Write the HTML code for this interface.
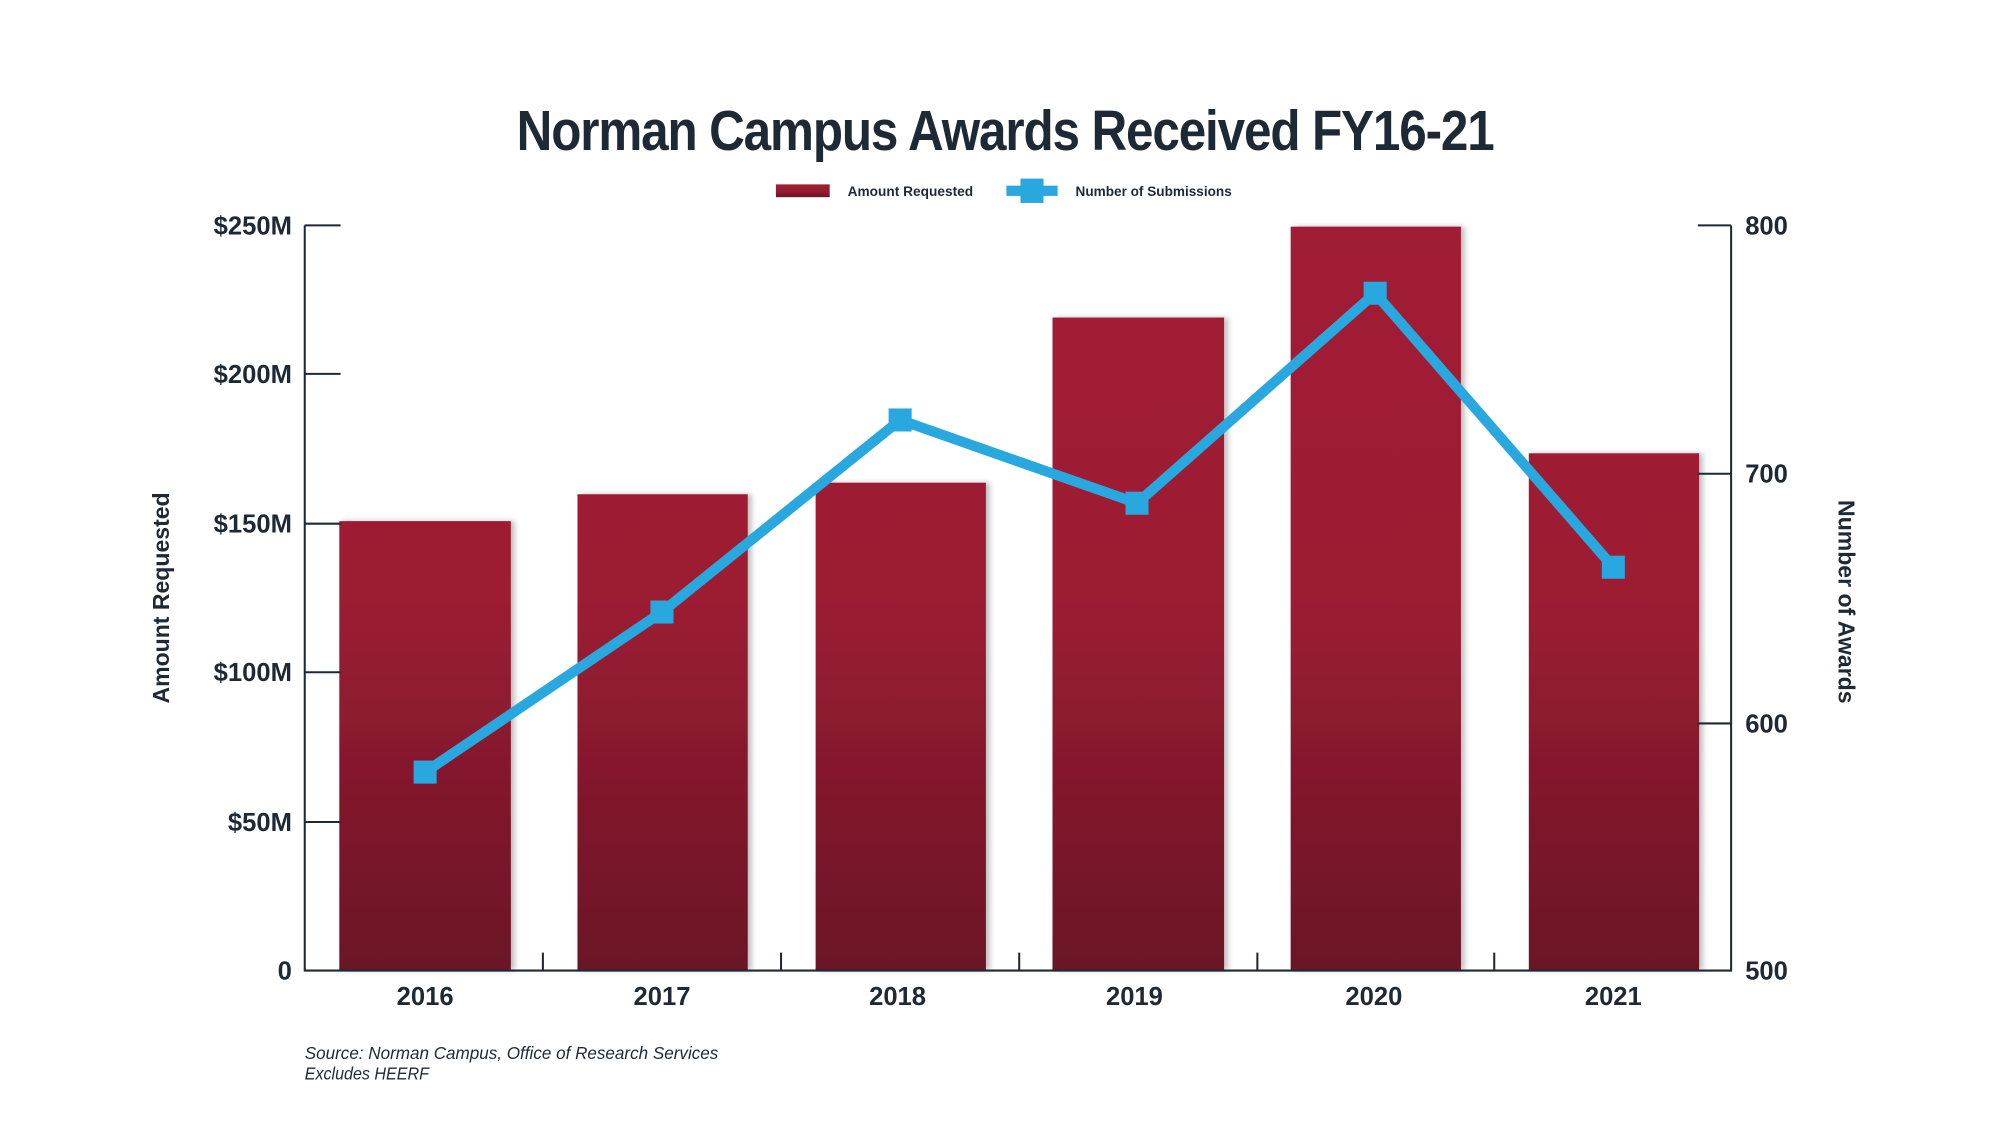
<!DOCTYPE html>
<html><head><meta charset="utf-8"><style>html,body{margin:0;padding:0;background:#fff}svg{display:block}</style></head>
<body>
<svg width="2000" height="1126" viewBox="0 0 1562 879.4" preserveAspectRatio="none" xmlns="http://www.w3.org/2000/svg" font-family="Liberation Sans, sans-serif" fill="#1d2a35">
<defs>
<linearGradient id="g" x1="0" y1="0" x2="0" y2="1"><stop offset="0" stop-color="#a11f34"/><stop offset="0.55" stop-color="#961c31"/><stop offset="1" stop-color="#6a1226"/></linearGradient>
<linearGradient id="gb" gradientUnits="userSpaceOnUse" x1="0" y1="176" x2="0" y2="758"><stop offset="0" stop-color="#a11f34"/><stop offset="0.5" stop-color="#9c1e33"/><stop offset="1" stop-color="#6a1226"/></linearGradient>
<filter id="sh" x="-10%" y="-5%" width="130%" height="110%"><feDropShadow dx="3" dy="0" stdDeviation="2" flood-color="#000" flood-opacity="0.25"/></filter>
</defs>
<text x="785" y="117" text-anchor="middle" font-size="44" font-weight="bold" textLength="763" lengthAdjust="spacingAndGlyphs" letter-spacing="-1">Norman Campus Awards Received FY16-21</text>
<rect x="606" y="144" width="42" height="10" fill="url(#g)"/>
<text x="662" y="153" font-size="11" font-weight="bold" textLength="98" lengthAdjust="spacingAndGlyphs">Amount Requested</text>
<rect x="786" y="145" width="40" height="8" fill="#29a8df"/>
<rect x="797" y="139.5" width="18" height="19" fill="#29a8df"/>
<text x="840" y="153" font-size="11" font-weight="bold" textLength="122" lengthAdjust="spacingAndGlyphs">Number of Submissions</text>
<g fill="url(#gb)" filter="url(#sh)">
<rect x="265" y="407" width="134" height="351"/>
<rect x="451" y="386" width="133" height="372"/>
<rect x="637" y="377" width="133" height="381"/>
<rect x="822" y="248" width="134" height="510"/>
<rect x="1008" y="177" width="133" height="581"/>
<rect x="1194" y="354" width="133" height="404"/>
</g>
<g stroke="#1d2a35" stroke-width="1.6" fill="none">
<path d="M238 176V758H1352V176"/>
<path d="M238 176H266M238 292H266M238 409H266M238 525H266M238 642H266"/>
<path d="M1326 176H1352M1326 370H1352M1326 565H1352"/>
<path d="M424 758V744M610 758V744M796 758V744M982 758V744M1167 758V744"/>
</g>
<g font-size="20" font-weight="bold" text-anchor="end">
<text x="228" y="183">$250M</text><text x="228" y="299">$200M</text><text x="228" y="416">$150M</text><text x="228" y="532">$100M</text><text x="228" y="649">$50M</text><text x="228" y="765">0</text>
</g>
<g font-size="20" font-weight="bold">
<text x="1363" y="183">800</text><text x="1363" y="377">700</text><text x="1363" y="572">600</text><text x="1363" y="765">500</text>
</g>
<g font-size="20" font-weight="bold" text-anchor="middle">
<text x="332" y="785">2016</text><text x="517" y="785">2017</text><text x="701" y="785">2018</text><text x="886" y="785">2019</text><text x="1073" y="785">2020</text><text x="1260" y="785">2021</text>
</g>
<text transform="translate(132,467) rotate(-90)" text-anchor="middle" font-size="18" font-weight="bold">Amount Requested</text>
<text transform="translate(1436,470) rotate(90)" text-anchor="middle" font-size="18" font-weight="bold">Number of Awards</text>
<polyline points="332,603 517,478 703,328 888,393 1074,229 1260,443" fill="none" stroke="#29a8df" stroke-width="8" stroke-linejoin="round"/>
<g fill="#29a8df">
<rect x="323" y="594" width="18" height="18"/><rect x="508" y="469" width="18" height="18"/><rect x="694" y="319" width="18" height="18"/><rect x="879" y="384" width="18" height="18"/><rect x="1065" y="220" width="18" height="18"/><rect x="1251" y="434" width="18" height="18"/>
</g>
<g font-size="14" font-style="italic">
<text x="238" y="827" textLength="323" lengthAdjust="spacingAndGlyphs">Source: Norman Campus, Office of Research Services</text>
<text x="238" y="843" textLength="97" lengthAdjust="spacingAndGlyphs">Excludes HEERF</text>
</g>
</svg>
</body></html>
